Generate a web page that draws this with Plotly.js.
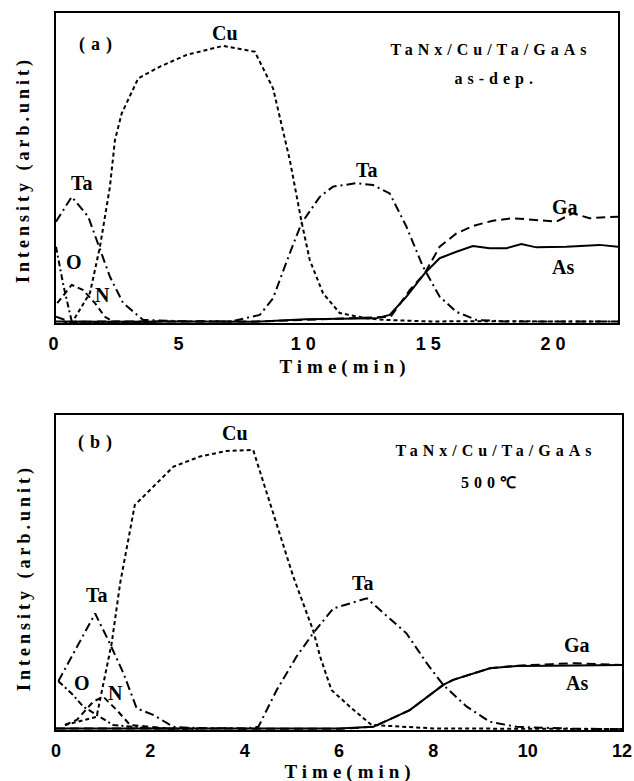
<!DOCTYPE html>
<html>
<head>
<meta charset="utf-8">
<script src="https://cdn.plot.ly/plotly-3.0.1.min.js"></script>
<style>
html,body{margin:0;padding:0;background:#fff;}
#chart{width:634px;height:781px;}
.xtick text{letter-spacing:5px;}
.annotation[data-index="0"] text,.annotation[data-index="1"] text{letter-spacing:4px;}
.annotation[data-index="2"] text,.annotation[data-index="3"] text{letter-spacing:5px;}
.annotation[data-index="4"] text,.annotation[data-index="5"] text{letter-spacing:6px;}
.annotation[data-index="6"] text,.annotation[data-index="7"] text,.annotation[data-index="8"] text,.annotation[data-index="9"] text{letter-spacing:5px;}
</style>
</head>
<body>
<div id="chart"></div>
<script>
// ---------- Panel (a): as-deposited ----------
const aCuT = [0.3, 0.63, 1.36, 1.76, 2.16, 2.36, 2.63, 3.29, 4.16, 5.23, 6.69, 7.96, 8.69, 9.36, 9.83, 10.16, 10.69, 11.36, 12.43, 13.2, 15, 17, 20, 22.5];
const aCuV = [0.5, 0, 9.7, 24.6, 44, 59, 67.6, 78.9, 82.7, 86.5, 89.4, 87.5, 75.7, 52.6, 32.7, 20.3, 9.6, 3.2, 1.5, 1, 0.5, 0.6, 0.5, 0.5];

const aTaT = [0, 0.63, 1.29, 1.63, 2.16, 2.69, 3.49, 5, 7, 8.16, 8.69, 9.36, 9.83, 10.56, 11.09, 12.03, 12.69, 13.36, 14.03, 14.69, 15.36, 16.03, 16.83, 18, 20, 22.5];
const aTaV = [32.7, 40.7, 34.3, 26.8, 14.9, 6.4, 1, 0.6, 0.5, 2.6, 8, 22.5, 32.2, 40.7, 44, 45.1, 44.5, 41.8, 31.1, 18.2, 8.5, 3.6, 1, 0.5, 0.5, 0.5];

const aGaT = [0, 0.6, 2, 5, 8, 10, 12, 13.4, 14.16, 14.76, 15.36, 16.03, 16.69, 17.49, 18.29, 19.36, 20.03, 20.69, 21.36, 22.5];
const aGaV = [2, 0.3, 0.5, 0.5, 0.5, 1, 1.5, 2, 10.6, 16, 24.6, 28.9, 31.3, 33, 33.8, 33.2, 32.7, 35.4, 33.8, 34.3];

const aAsT = [0, 2, 5, 8, 10, 12, 12.8, 13.36, 14.03, 14.76, 15.36, 16.03, 16.69, 17.36, 18.03, 18.63, 19.23, 20.43, 21.76, 22.5];
const aAsV = [0.5, 0.4, 0.5, 0.4, 1.2, 1.5, 1.5, 2.6, 8.5, 16, 20.9, 23, 24.8, 24.1, 24.1, 25.5, 24.4, 24.6, 25.2, 24.6];

const aOT = [0, 0.3, 0.63, 1.5, 4];
const aOV = [24.6, 12, 0.5, 0.3, 0.3];

const aNT = [0.05, 0.63, 1.09, 1.56, 1.96, 2.29, 4];
const aNV = [6.4, 12.3, 10.6, 6.4, 2, 0.4, 0.3];

// ---------- Panel (b): 500 C ----------
const bCuT = [0.19, 0.86, 1.18, 1.36, 1.67, 2.06, 2.49, 3.05, 3.62, 4.18, 4.61, 5.03, 5.45, 5.6, 5.84, 6.23, 6.69, 8, 10, 12];
const bCuV = [1.6, 4.2, 27.5, 46.6, 71.4, 77.2, 83.6, 86.8, 88.6, 88.9, 68.8, 48.7, 31.7, 23.3, 12.7, 7.4, 1.6, 0.5, 0.4, 0.3];

const bTaT = [0.05, 0.44, 0.83, 1.14, 1.43, 1.71, 2.06, 2.49, 3, 4, 4.29, 4.68, 5.1, 5.45, 5.88, 6.59, 7.43, 7.86, 8.21, 8.71, 9.2, 9.77, 11, 12];
const bTaV = [15.5, 26.4, 37, 27.5, 18, 6.9, 4.8, 1, 0.6, 0.5, 1, 12.7, 23.3, 30.7, 38.6, 41.8, 30.7, 21.2, 14.3, 7.4, 2.6, 1, 0.4, 0.3];

const bGaT = [0, 2, 4, 6, 6.73, 7.5, 8.21, 8.42, 9.2, 9.77, 10.5, 11, 11.5, 12];
const bGaV = [0.5, 0.4, 0.5, 0.4, 1, 6.3, 14.3, 15.9, 19.6, 20.4, 20.9, 21.2, 20.9, 20.6];

const bAsT = [0, 2, 4, 6, 6.73, 7.5, 8.21, 8.42, 9.2, 9.77, 10.5, 11, 11.5, 12];
const bAsV = [0.5, 0.5, 0.4, 0.5, 1, 6.3, 14.3, 15.9, 19.6, 20.3, 20.4, 20.5, 20.6, 20.6];

const bOT = [0.05, 0.33, 0.58, 0.86, 1.21, 2, 3];
const bOV = [15.5, 11.6, 7.4, 4.8, 1.6, 0.5, 0.3];

const bNT = [0.19, 0.44, 0.79, 1.0, 1.29, 1.57, 2.5];
const bNV = [1.6, 3.2, 9, 10.6, 6.3, 1.6, 0.3];

const aTicks = [0, 5, 10, 15, 20];
const bTicks = [0, 2, 4, 6, 8, 10, 12];

// ---------- styles ----------
const W = 634, H = 781;
const px = x => x / W;
const py = y => 1 - y / H;
const dashes = {Cu: '4px,3px', Ta: '9px,4px,2px,4px', Ga: '9px,5px', As: 'solid', O: '6px,3px,2px,3px', N: '6px,4px'};

function tr(x, y, name, xa, ya) {
  return {x: x, y: y, mode: 'lines', name: name, xaxis: xa, yaxis: ya,
    line: {color: '#000', width: 2, dash: dashes[name]}, hoverinfo: 'skip'};
}

const data = [
  tr(aCuT, aCuV, 'Cu', 'x', 'y'), tr(aTaT, aTaV, 'Ta', 'x', 'y'), tr(aGaT, aGaV, 'Ga', 'x', 'y'),
  tr(aAsT, aAsV, 'As', 'x', 'y'), tr(aOT, aOV, 'O', 'x', 'y'), tr(aNT, aNV, 'N', 'x', 'y'),
  tr(bCuT, bCuV, 'Cu', 'x2', 'y2'), tr(bTaT, bTaV, 'Ta', 'x2', 'y2'), tr(bGaT, bGaV, 'Ga', 'x2', 'y2'),
  tr(bAsT, bAsV, 'As', 'x2', 'y2'), tr(bOT, bOV, 'O', 'x2', 'y2'), tr(bNT, bNV, 'N', 'x2', 'y2')
];

const tickFont = {family: 'Liberation Sans, Arial, sans-serif', size: 18, color: '#000'};
function xax(domain, range, ticks, anchor) {
  return {domain: domain, range: range, anchor: anchor, tickvals: ticks,
    ticktext: ticks.map(t => '<b>' + t + '</b>'),
    showline: true, mirror: true, linecolor: '#000', linewidth: 2, showgrid: false, zeroline: false,
    ticks: '', tickfont: tickFont, ticklabelstandoff: 3, fixedrange: true};
}
function yax(domain, anchor) {
  return {domain: domain, range: [0, 100], anchor: anchor, showticklabels: false,
    showline: true, mirror: true, linecolor: '#000', linewidth: 2, showgrid: false, zeroline: false,
    ticks: '', fixedrange: true};
}

const serif = 'Liberation Serif, Times New Roman, serif';
function ann(text, x, y, size, extra) {
  return Object.assign({text: '<b>' + text + '</b>', x: px(x), y: py(y), xref: 'paper', yref: 'paper', showarrow: false,
    xanchor: 'center', yanchor: 'middle', font: {family: serif, size: size, color: '#000'}}, extra || {});
}

const annotations = [
  ann('Intensity (arb.unit)', 24, 170, 18, {textangle: -90}),
  ann('Intensity (arb.unit)', 24, 578, 18, {textangle: -90}),
  ann('Time(min)', 345, 367, 19),
  ann('Time(min)', 350, 772, 19),
  ann('(a)', 98, 45, 18),
  ann('(b)', 98, 442, 18),
  ann('TaNx/Cu/Ta/GaAs', 491, 50, 16),
  ann('as-dep.', 496, 79, 16),
  ann('TaNx/Cu/Ta/GaAs', 496, 450, 16),
  ann('500℃', 491, 482, 16),
  ann('Cu', 225, 33, 20),
  ann('Ta', 82, 183, 20),
  ann('O', 74, 262, 20),
  ann('N', 102, 295, 20),
  ann('Ta', 367, 170, 20),
  ann('Ga', 565, 207, 20),
  ann('As', 563, 267, 20),
  ann('Cu', 235, 433, 20),
  ann('Ta', 97, 595, 20),
  ann('O', 82, 683, 20),
  ann('N', 115, 693, 20),
  ann('Ta', 363, 583, 20),
  ann('Ga', 577, 645, 20),
  ann('As', 577, 683, 20)
];

const layout = {
  width: W, height: H, margin: {l: 0, r: 0, t: 0, b: 0},
  paper_bgcolor: '#fff', plot_bgcolor: '#fff', showlegend: false,
  xaxis: xax([px(56), px(618)], [0, 22.5], aTicks, 'y'),
  yaxis: yax([py(323), py(13)], 'x'),
  xaxis2: xax([px(56), px(622)], [0, 12], bTicks, 'y2'),
  yaxis2: yax([py(730), py(415)], 'x2'),
  annotations: annotations
};

Plotly.newPlot('chart', data, layout, {staticPlot: true, displayModeBar: false});
</script>
</body>
</html>
